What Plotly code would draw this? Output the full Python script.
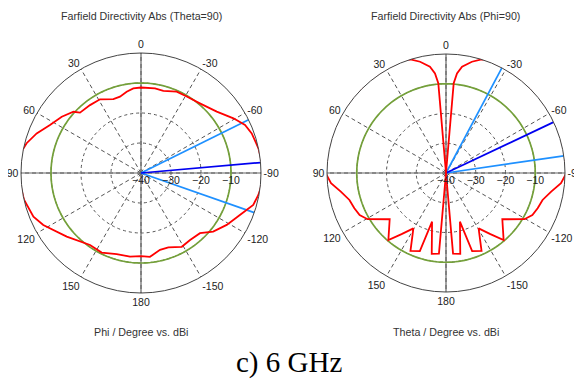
import plotly.graph_objects as go

# ---------------- data ----------------
# Left: Farfield Directivity Abs (Theta=90), Phi cut  (values at the rim are clipped by the outer circle)
phi_deg = [-180, -173.9, -166.1, -159.8, -151.1, -143.8, -135.6, -129.1, -121.2, -113.0,
           -105.9, -100.6, -95.0, -90.0, -85.0, -78.1, -70.3, -65.2, -59.4, -51.0,
           -40.2, -30.9, -23.7, -15.2, -9.4, 0.0, 5.2, 10.0, 15.4, 20.5,
           29.1, 36.9, 45.3, 47.8, 54.6, 62.2, 69.2, 75.4, 80.0, 85.4, 90.0,
           95.0, 102.9, 112.1, 118.0, 130.6, 144.7, 153.7, 163.3, 172.5, 180.0]
dir_phi = [-12.3, -11.9, -13.6, -13.6, -11.9, -12.3, -11.9, -9.0, -6.6, -4.2,
           -1.1, -0.2, 0.5, 0.5, 0.5, 0.0, -0.8, -1.8, -4.2, -7.5,
           -9.6, -10.3, -10.4, -11.6, -11.4, -11.5, -11.7, -12.5, -13.6, -13.7,
           -11.9, -11.7, -11.4, -9.6, -7.6, -5.7, -2.8, -0.6, 0.5, 0.5, 0.5,
           0.5, 0.0, -1.3, -3.1, -7.4, -10.6, -10.4, -11.8, -11.9, -12.3]
left_level = -10.0                 # green circle level (dBi)
left_main_dir = -85.0              # main lobe direction
left_bw_edges = [-63.7, -109.3]    # 3 dB angular width edges

# Right: Farfield Directivity Abs (Phi=90), Theta cut
theta_deg = [-180, -175.0, -170.0, -164.0, -161.5, -155.5, -149.5, -144.0, -139.3, -129.4,
             -120.5, -116.0, -111.0, -105.6, -100.0, -95.0, -90.0, -80.0, -70.0, -60.0,
             -50.0, -40.0, -30.0, -20.0, -17.4, -13.1, -8.6, -6.3, -4.9, 0.0,
             4.9, 6.3, 8.6, 13.1, 17.4, 20.0, 30.0, 40.0, 50.0, 60.0,
             70.0, 80.0, 90.0, 95.0, 100.0, 105.6, 111.0, 116.0, 120.5, 129.4,
             139.3, 144.0, 149.5, 155.5, 161.5, 164.0, 170.0, 175.0, 180.0]
dir_theta = [-40.0, -12.8, -12.4, -23.0, -12.3, -11.2, -18.4, -14.6, -10.3, -15.5,
             -9.4, -7.7, -7.0, -6.3, -4.1, -1.2, 0.5, 0.5, 0.5, 0.5,
             0.5, 0.5, 0.5, 0.5, 0.0, -1.6, -3.9, -6.3, -9.7, -40.0,
             -9.7, -6.3, -3.9, -1.6, 0.0, 0.5, 0.5, 0.5, 0.5, 0.5,
             0.5, 0.5, 0.5, -1.2, -4.1, -6.3, -7.0, -7.7, -9.4, -15.5,
             -10.3, -14.6, -18.4, -11.2, -12.3, -23.0, -12.4, -12.8, -40.0]
right_level = -10.0
right_main_dir = -64.7
right_bw_edges = [-28.0, -81.7]

r_min, r_max = -40, 0
radial_ticks = [-40, -30, -20, -10]
ang_tickvals = [0, 30, 60, 90, 120, 150, 180, 210, 240, 270, 300, 330]
ang_ticktext = ['0', '30', '60', '90', '120', '150', '180', '-150', '-120', '-90', '-60', '-30']

# ---------------- styles ----------------
RED = '#FF0000'
GREEN = '#74A03A'
LBLUE = '#1E90FF'
DBLUE = '#0000F0'
AXGRAY = '#666666'
GRID = '#555555'
FONT = 'Liberation Sans'
TXT = '#333333'

fig = go.Figure()
circle_theta = list(range(0, 361, 2))


def add_panel(subplot, th, rr, level, main_dir, bw_edges):
    # solid cross axes through the center
    fig.add_trace(go.Scatterpolar(r=[r_max, r_min, r_max], theta=[0, 0, 180], mode='lines',
                                  line=dict(color=AXGRAY, width=1.2), subplot=subplot,
                                  showlegend=False, hoverinfo='skip'))
    fig.add_trace(go.Scatterpolar(r=[r_max, r_min, r_max], theta=[90, 90, 270], mode='lines',
                                  line=dict(color=AXGRAY, width=1.2), subplot=subplot,
                                  showlegend=False, hoverinfo='skip'))
    # level circle
    fig.add_trace(go.Scatterpolar(r=[level] * len(circle_theta), theta=circle_theta, mode='lines',
                                  line=dict(color=GREEN, width=1.7), subplot=subplot,
                                  showlegend=False, hoverinfo='skip'))
    # beamwidth lines
    for e in bw_edges:
        fig.add_trace(go.Scatterpolar(r=[r_min, r_max], theta=[e, e], mode='lines',
                                      line=dict(color=LBLUE, width=1.7), subplot=subplot,
                                      showlegend=False, hoverinfo='skip'))
    fig.add_trace(go.Scatterpolar(r=[r_min, r_max], theta=[main_dir, main_dir], mode='lines',
                                  line=dict(color=DBLUE, width=1.7), subplot=subplot,
                                  showlegend=False, hoverinfo='skip'))
    # pattern
    fig.add_trace(go.Scatterpolar(r=rr, theta=th, mode='lines',
                                  line=dict(color=RED, width=1.8), subplot=subplot,
                                  showlegend=False))


add_panel('polar', phi_deg, dir_phi, left_level, left_main_dir, left_bw_edges)
add_panel('polar2', theta_deg, dir_theta, right_level, right_main_dir, right_bw_edges)

# the page body has an 8 px margin: lay out in window pixels, then shift
OFF = 8
W, H = 582 - OFF, 380 - OFF


def px(x):
    return (x - OFF) / W


def py(y):
    return 1 - (y - OFF) / H


def polar_layout(x0, x1, y0, y1):
    return dict(
        domain=dict(x=[px(x0), px(x1)], y=[py(y1), py(y0)]),
        bgcolor='white',
        angularaxis=dict(rotation=90, direction='counterclockwise',
                         tickmode='array', tickvals=ang_tickvals, ticktext=ang_ticktext,
                         ticks='', showline=True, linecolor='#444444', linewidth=1,
                         showgrid=True, gridcolor=GRID, griddash='4px,3px', gridwidth=0.8,
                         tickfont=dict(family=FONT, size=10.5, color='#222222')),
        radialaxis=dict(range=[r_min, r_max], tickmode='array', tickvals=radial_ticks,
                        angle=0, side='clockwise', ticks='', showline=False,
                        showgrid=True, gridcolor=GRID, griddash='3px,3px', gridwidth=0.8,
                        tickfont=dict(family=FONT, size=10.5, color='#222222')),
    )


def label(text, x, y, size=10.7, family=FONT, color=TXT):
    return dict(text=text, x=px(x), y=py(y), xref='paper', yref='paper',
                xanchor='center', yanchor='middle', showarrow=False,
                font=dict(family=family, size=size, color=color))


fig.update_layout(
    width=W, height=H,
    margin=dict(l=0, r=0, t=0, b=0),
    paper_bgcolor='white',
    polar=polar_layout(21, 261, 53, 293),
    polar2=polar_layout(327, 565, 54, 292),
    annotations=[
        label('Farfield Directivity Abs (Theta=90)', 141, 16),
        label('Farfield Directivity Abs (Phi=90)', 446, 16),
        label('Phi / Degree vs. dBi', 141, 332),
        label('Theta / Degree vs. dBi', 446, 332),
        label('c) 6 GHz', 289, 362, size=29, family='Liberation Serif', color='black'),
    ],
)

fig.write_html('out.html')
